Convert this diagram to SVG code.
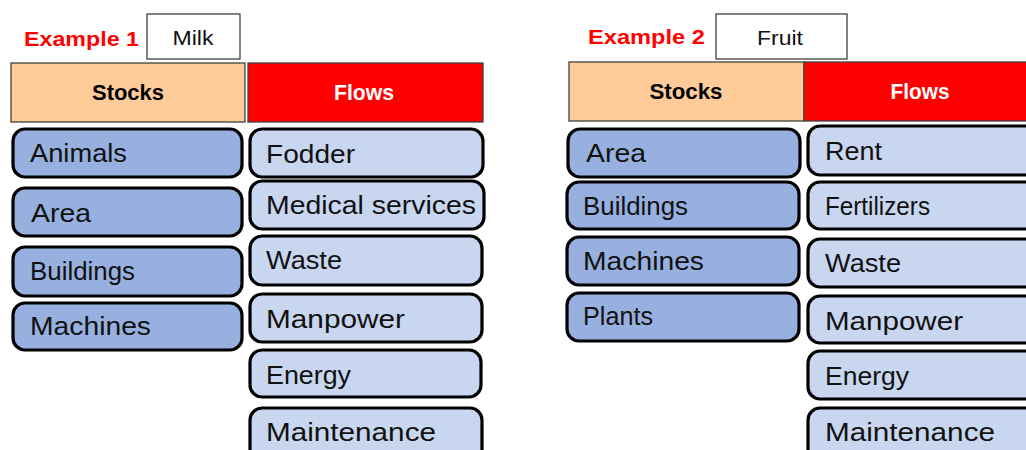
<svg xmlns="http://www.w3.org/2000/svg" width="1026" height="450" viewBox="0 0 1026 450">
<style>
.ex{font-family:"Liberation Sans",Arial,sans-serif;font-weight:bold;font-size:21px;fill:#FF0000}
.prod{fill:#fff;stroke:#404040;stroke-width:1.3}
.prodt{font-family:"Liberation Sans",Arial,sans-serif;font-size:21px;fill:#111;text-anchor:middle}
.hs{fill:#FFCC99;stroke:#404040;stroke-width:1.3}
.hf{fill:#FF0000;stroke:#404040;stroke-width:1.3}
.ht{font-family:"Liberation Sans",Arial,sans-serif;font-weight:bold;font-size:22px;text-anchor:middle}
.s{fill:#97B0E0;stroke:#000;stroke-width:3.2}
.f{fill:#C9D6F0;stroke:#000;stroke-width:3.2}
.t{font-family:"Liberation Sans",Arial,sans-serif;font-size:26px;fill:#111}
</style>
<rect width="1026" height="450" fill="#fff"/>
<g id="example1">
<g id="ex1-title"><text class="ex" x="24" y="46" textLength="115" lengthAdjust="spacingAndGlyphs">Example 1</text></g>
<g id="ex1-product"><rect class="prod" x="147" y="14" width="93" height="45"/><text class="prodt" x="193" y="45" textLength="41" lengthAdjust="spacingAndGlyphs">Milk</text></g>
<g id="ex1-stocks-header"><rect class="hs" x="11" y="63" width="234" height="59"/><text class="ht" x="128" y="100" fill="#000" textLength="72" lengthAdjust="spacingAndGlyphs">Stocks</text></g>
<g id="ex1-flows-header"><rect class="hf" x="248" y="63" width="235" height="59"/><text class="ht" x="364" y="100" fill="#fff" textLength="60" lengthAdjust="spacingAndGlyphs">Flows</text></g>
<g id="ex1-animals"><rect class="s" x="13" y="129" width="229" height="48" rx="12"/><text class="t" x="30" y="162" textLength="97" lengthAdjust="spacingAndGlyphs">Animals</text></g>
<g id="ex1-area"><rect class="s" x="13" y="188" width="229" height="48" rx="12"/><text class="t" x="31" y="222" textLength="60" lengthAdjust="spacingAndGlyphs">Area</text></g>
<g id="ex1-buildings"><rect class="s" x="13" y="247" width="229" height="49" rx="12"/><text class="t" x="30" y="280" textLength="105" lengthAdjust="spacingAndGlyphs">Buildings</text></g>
<g id="ex1-machines"><rect class="s" x="13" y="303" width="229" height="47" rx="12"/><text class="t" x="30" y="335" textLength="121" lengthAdjust="spacingAndGlyphs">Machines</text></g>
<g id="ex1-fodder"><rect class="f" x="250" y="129" width="233" height="48" rx="12"/><text class="t" x="266" y="163" textLength="89" lengthAdjust="spacingAndGlyphs">Fodder</text></g>
<g id="ex1-medical"><rect class="f" x="250" y="181" width="234" height="48" rx="12"/><text class="t" x="266" y="214" textLength="210" lengthAdjust="spacingAndGlyphs">Medical services</text></g>
<g id="ex1-waste"><rect class="f" x="250" y="236" width="232" height="49" rx="12"/><text class="t" x="266" y="269" textLength="76" lengthAdjust="spacingAndGlyphs">Waste</text></g>
<g id="ex1-manpower"><rect class="f" x="250" y="294" width="232" height="48" rx="12"/><text class="t" x="266" y="328" textLength="139" lengthAdjust="spacingAndGlyphs">Manpower</text></g>
<g id="ex1-energy"><rect class="f" x="250" y="350" width="231" height="47" rx="12"/><text class="t" x="266" y="384" textLength="85" lengthAdjust="spacingAndGlyphs">Energy</text></g>
<g id="ex1-maintenance"><rect class="f" x="250" y="408" width="232" height="60" rx="12"/><text class="t" x="266" y="441" textLength="170" lengthAdjust="spacingAndGlyphs">Maintenance</text></g>
</g>
<g id="example2">
<g id="ex2-title"><text class="ex" x="588" y="44" textLength="117" lengthAdjust="spacingAndGlyphs">Example 2</text></g>
<g id="ex2-product"><rect class="prod" x="716" y="14" width="131" height="45"/><text class="prodt" x="780" y="45" textLength="46" lengthAdjust="spacingAndGlyphs">Fruit</text></g>
<g id="ex2-stocks-header"><rect class="hs" x="569" y="62" width="235" height="59"/><text class="ht" x="686" y="99" fill="#000" textLength="73" lengthAdjust="spacingAndGlyphs">Stocks</text></g>
<g id="ex2-flows-header"><rect class="hf" x="804" y="62" width="240" height="59"/><text class="ht" x="920" y="99" fill="#fff" textLength="59" lengthAdjust="spacingAndGlyphs">Flows</text></g>
<g id="ex2-area"><rect class="s" x="568" y="129" width="232" height="48" rx="12"/><text class="t" x="586" y="162" textLength="60" lengthAdjust="spacingAndGlyphs">Area</text></g>
<g id="ex2-buildings"><rect class="s" x="567" y="182" width="232" height="47" rx="12"/><text class="t" x="583" y="215" textLength="105" lengthAdjust="spacingAndGlyphs">Buildings</text></g>
<g id="ex2-machines"><rect class="s" x="567" y="237" width="232" height="48" rx="12"/><text class="t" x="583" y="270" textLength="121" lengthAdjust="spacingAndGlyphs">Machines</text></g>
<g id="ex2-plants"><rect class="s" x="567" y="293" width="232" height="48" rx="12"/><text class="t" x="583" y="325" textLength="70" lengthAdjust="spacingAndGlyphs">Plants</text></g>
<g id="ex2-rent"><rect class="f" x="808" y="126" width="240" height="49" rx="12"/><text class="t" x="825" y="160" textLength="57" lengthAdjust="spacingAndGlyphs">Rent</text></g>
<g id="ex2-fertilizers"><rect class="f" x="808" y="182" width="240" height="47" rx="12"/><text class="t" x="825" y="215" textLength="105" lengthAdjust="spacingAndGlyphs">Fertilizers</text></g>
<g id="ex2-waste"><rect class="f" x="808" y="239" width="240" height="48" rx="12"/><text class="t" x="825" y="272" textLength="76" lengthAdjust="spacingAndGlyphs">Waste</text></g>
<g id="ex2-manpower"><rect class="f" x="808" y="296" width="240" height="47" rx="12"/><text class="t" x="825" y="330" textLength="138" lengthAdjust="spacingAndGlyphs">Manpower</text></g>
<g id="ex2-energy"><rect class="f" x="808" y="351" width="240" height="48" rx="12"/><text class="t" x="825" y="385" textLength="84" lengthAdjust="spacingAndGlyphs">Energy</text></g>
<g id="ex2-maintenance"><rect class="f" x="808" y="408" width="240" height="60" rx="12"/><text class="t" x="825" y="441" textLength="170" lengthAdjust="spacingAndGlyphs">Maintenance</text></g>
</g>
<g id="connectors"/>
</svg>
